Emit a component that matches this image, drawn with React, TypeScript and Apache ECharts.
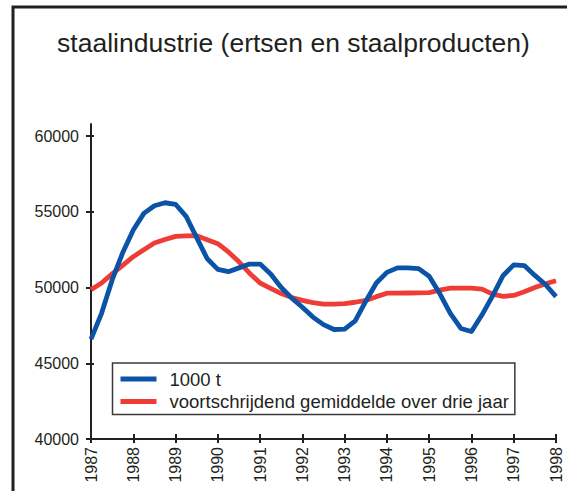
import React, { useEffect, useRef } from "react";
import * as echarts from "echarts";

const years = ["1987", "1988", "1989", "1990", "1991", "1992", "1993", "1994", "1995", "1996", "1997", "1998"];
// quarterly periods from 1987 K1 up to 1998 K1
const periods: string[] = years.flatMap((y, i) =>
  i < years.length - 1 ? [y + " K1", y + " K2", y + " K3", y + " K4"] : [y + " K1"]
);

const production = [
  46600, 48300, 50500, 52300, 53800, 54900, 55400, 55600, 55500, 54700,
  53300, 51900, 51200, 51050, 51300, 51550, 51550, 50900, 50000, 49300,
  48700, 48050, 47550, 47230, 47250, 47800, 49100, 50300, 51000, 51300,
  51300, 51250, 50750, 49600, 48300, 47300, 47100, 48200, 49450, 50800,
  51500, 51450, 50800, 50200, 49400,
];

const movingAverage = [
  49850, 50300, 50900, 51470, 52040, 52500, 52940, 53170, 53380, 53410,
  53420, 53150, 52900, 52350, 51700, 50950, 50300, 49950, 49600, 49340,
  49150, 49000, 48900, 48910, 48940, 49030, 49150, 49400, 49630, 49630,
  49640, 49650, 49670, 49830, 49960, 49960, 49960, 49900, 49570, 49420,
  49480, 49720, 50000, 50250, 50450,
];

const yTicks = [40000, 45000, 50000, 55000, 60000];

const titleText = "staalindustrie (ertsen en staalproducten)";
const seriesNames = ["1000 t", "voortschrijdend gemiddelde over drie jaar"];

const INK = "#231f20";
const FONT = "'Liberation Sans', Arial, Helvetica, sans-serif";

export default function App() {
  const ref = useRef<HTMLDivElement>(null);
  useEffect(() => {
    if (!ref.current) return;
    const chart = echarts.init(ref.current, undefined, { renderer: "svg" });
    chart.setOption({
      animation: false,
      backgroundColor: "#ffffff",
      textStyle: { fontFamily: FONT },
      title: {
        text: titleText,
        left: 293.5,
        top: 29,
        textAlign: "center",
        padding: 0,
        textStyle: { fontFamily: FONT, fontSize: 26.5, fontWeight: "normal", color: INK },
      },
      graphic: [
        {
          type: "rect",
          shape: { x: 13, y: 7, width: 700, height: 700 },
          style: { fill: "none", stroke: INK, lineWidth: 3 },
          silent: true,
          z: 0,
        },
      ],
      legend: {
        orient: "vertical",
        left: 112.5,
        top: 363,
        padding: [6, 6, 3, 8],
        itemGap: 2.4,
        itemWidth: 36,
        itemHeight: 5,
        icon: "rect",
        borderColor: "#3a3a3a",
        borderWidth: 1.5,
        backgroundColor: "#ffffff",
        data: seriesNames,
        textStyle: {
          fontFamily: FONT,
          fontSize: 18.5,
          color: INK,
          lineHeight: 20,
          padding: [0, 0, 0, 8],
        },
      },
      grid: { left: 91, right: 11, top: 124, bottom: 52, containLabel: false },
      xAxis: [
        {
          type: "category",
          data: periods,
          boundaryGap: false,
          axisLine: { show: true, lineStyle: { color: INK, width: 2 } },
          axisTick: { show: true, interval: 3, length: 4, lineStyle: { color: INK, width: 2 } },
          axisLabel: {
            interval: 3,
            rotate: 90,
            margin: 8,
            fontSize: 16,
            color: INK,
            fontFamily: FONT,
            formatter: (v: string) => v.slice(0, 4),
          },
          splitLine: { show: false },
        },
        {
          type: "category",
          data: periods,
          boundaryGap: false,
          position: "bottom",
          axisLine: { show: false },
          axisTick: { show: true, inside: true, interval: 3, length: 5, lineStyle: { color: INK, width: 2 } },
          axisLabel: { show: false },
          splitLine: { show: false },
        },
      ],
      yAxis: [
        {
          type: "value",
          min: 40000,
          max: 60800,
          interval: 5000,
          axisLine: { show: true, lineStyle: { color: INK, width: 2 } },
          axisTick: { show: true, length: 5, customValues: yTicks, lineStyle: { color: INK, width: 2 } },
          axisLabel: {
            customValues: yTicks,
            margin: 12,
            fontSize: 16,
            color: INK,
            fontFamily: FONT,
            formatter: (v: number) => String(v),
          },
          splitLine: { show: false },
        },
        {
          type: "value",
          min: 40000,
          max: 60800,
          interval: 5000,
          position: "left",
          axisLine: { show: false },
          axisTick: { show: true, inside: true, length: 3, customValues: yTicks, lineStyle: { color: INK, width: 2 } },
          axisLabel: { show: false },
          splitLine: { show: false },
        },
      ],
      series: [
        {
          name: seriesNames[0],
          type: "line",
          data: production,
          symbol: "none",
          color: "#0b53a6",
          lineStyle: { width: 4.8, color: "#0b53a6", join: "round" },
          z: 3,
        },
        {
          name: seriesNames[1],
          type: "line",
          data: movingAverage,
          symbol: "none",
          color: "#ee3d37",
          lineStyle: { width: 4.8, color: "#ee3d37", join: "round" },
          z: 2,
        },
      ],
    });
    return () => chart.dispose();
  }, []);
  return (
    <div
      ref={ref}
      style={{ position: "absolute", left: 0, top: 0, width: 567, height: 491 }}
    />
  );
}
